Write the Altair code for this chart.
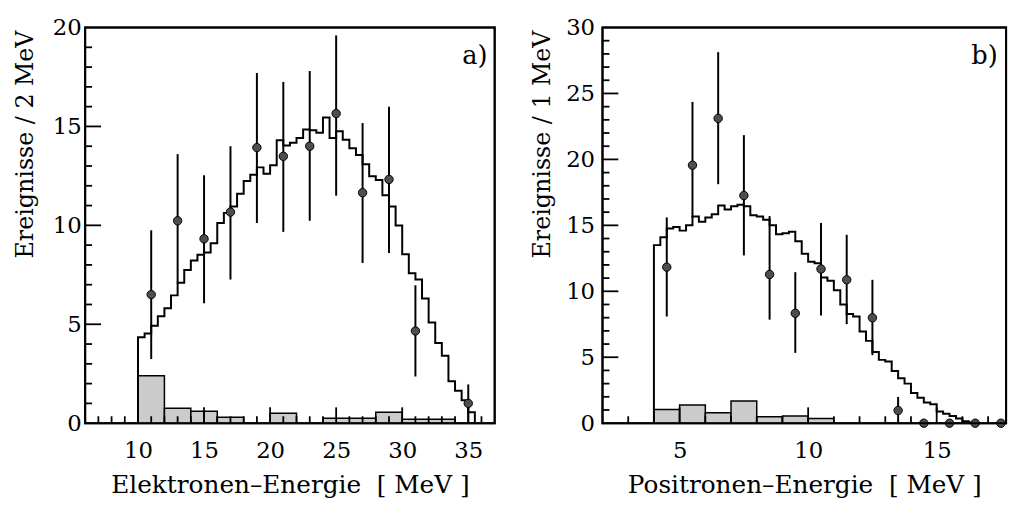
import altair as alt
import pandas as pd

FONT = "DejaVu Serif"

# ---------------- panel a) : electrons ----------------
a_mc_start = 10.0
a_mc_width = 0.5
a_mc_values = [4.34, 4.53, 4.93, 5.41, 5.81, 6.46, 7.10, 7.74, 8.22, 8.51,
               8.63, 9.10, 10.12, 10.63, 10.95, 11.60, 12.24, 12.56, 12.93, 12.61,
               13.04, 14.30, 14.04, 14.17, 14.41, 14.84, 14.81, 14.68, 15.45, 14.41,
               14.76, 14.33, 13.90, 13.56, 13.09, 12.48, 12.29, 11.52, 10.95, 9.99,
               8.54, 7.58, 7.26, 6.30, 5.09, 4.05, 3.41, 2.12, 1.64, 1.16,
               0.55]

a_bg_x0 = [10, 12, 14, 15, 16, 20, 24, 28, 30]
a_bg_x1 = [12, 14, 15, 16, 18, 22, 28, 30, 34]
a_bg_val = [2.4, 0.75, 0.6, 0.6, 0.3, 0.5, 0.25, 0.55, 0.2]

a_pt_x = [11, 13, 15, 17, 19, 21, 23, 25, 27, 29, 31, 35]
a_pt_y = [6.5, 10.23, 9.32, 10.67, 13.93, 13.49, 14.0, 15.65, 11.65, 12.32, 4.66, 1.0]
a_pt_lo = [3.24, 7.1, 6.06, 7.26, 10.12, 9.67, 10.23, 11.5, 8.1, 8.6, 2.36, 0.0]
a_pt_hi = [9.75, 13.6, 12.53, 14.0, 17.7, 17.25, 17.8, 19.6, 15.17, 16.0, 6.97, 1.96]

a_xdomain = [6, 37]
a_ydomain = [0, 20]
a_xmajor = [10, 15, 20, 25, 30, 35]
a_xminor = [7, 8, 9, 11, 12, 13, 14, 16, 17, 18, 19, 21, 22, 23, 24, 26, 27, 28, 29,
            31, 32, 33, 34, 36]
a_ymajor = [0, 5, 10, 15, 20]
a_yminor = [1, 2, 3, 4, 6, 7, 8, 9, 11, 12, 13, 14, 16, 17, 18, 19]
a_xtitle = "Elektronen–Energie\u00a0\u00a0[ MeV ]"
a_ytitle = "Ereignisse / 2 MeV"
a_tag = "a)"
a_tag_x, a_tag_y = 35.5, 18.55

# ---------------- panel b) : positrons ----------------
b_mc_start = 4.0
b_mc_width = 0.25
b_mc_values = [13.5, 14.1, 14.76, 14.88, 14.6, 15.0, 15.67, 15.28, 15.6, 15.84,
               16.5, 16.2, 16.44, 16.56, 16.44, 15.77, 15.67, 15.43, 15.0, 14.33,
               14.4, 14.52, 13.8, 12.84, 12.24, 12.12, 11.04, 10.8, 10.08, 9.0,
               8.28, 8.09, 6.96, 6.24, 5.4, 4.8, 4.68, 3.96, 3.41, 3.0,
               2.28, 1.92, 1.56, 1.44, 0.89, 0.72, 0.55, 0.36, 0.15, 0.05]

b_bg_x0 = [4, 5, 6, 7, 8, 9, 10]
b_bg_x1 = [5, 6, 7, 8, 9, 10, 11]
b_bg_val = [1.03, 1.37, 0.79, 1.68, 0.48, 0.55, 0.35]

b_pt_x = [4.5, 5.5, 6.5, 7.5, 8.5, 9.5, 10.5, 11.5, 12.5, 13.5, 14.5, 15.5, 16.5, 17.5]
b_pt_y = [11.83, 19.56, 23.11, 17.26, 11.28, 8.33, 11.69, 10.87, 7.99, 0.96, 0, 0, 0, 0]
b_pt_lo = [8.09, 15.6, 18.12, 12.72, 7.85, 5.33, 8.16, 7.51, 5.16, 0, 0, 0, 0, 0]
b_pt_hi = [15.6, 24.36, 28.13, 21.84, 15.7, 11.45, 15.17, 14.28, 10.87, 1.99, 0, 0, 0, 0]

b_xdomain = [2, 17.7]
b_ydomain = [0, 30]
b_xmajor = [5, 10, 15]
b_xminor = [3, 4, 6, 7, 8, 9, 11, 12, 13, 14, 16, 17]
b_ymajor = [0, 5, 10, 15, 20, 25, 30]
b_yminor = [1, 2, 3, 4, 6, 7, 8, 9, 11, 12, 13, 14, 16, 17, 18, 19,
            21, 22, 23, 24, 26, 27, 28, 29]
b_xtitle = "Positronen–Energie\u00a0\u00a0[ MeV ]"
b_ytitle = "Ereignisse / 1 MeV"
b_tag = "b)"
b_tag_x, b_tag_y = 16.86, 27.8

W_A, W_B, H = 414, 408, 400
MAJOR_LEN, MINOR_LEN = 16, 7


def panel(mc_start, mc_width, mc_values, bg_x0, bg_x1, bg_val,
          pt_x, pt_y, pt_lo, pt_hi, xdomain, ydomain, xmajor, xminor,
          ymajor, yminor, xtitle, ytitle, tag, tag_x, tag_y, width, ylabpad):
    sx = alt.Scale(domain=xdomain, nice=False, zero=False)
    sy = alt.Scale(domain=ydomain, nice=False, zero=False)
    ax = alt.Axis(values=xmajor, title=xtitle, grid=False, ticks=False,
                  domain=False, format="d", labelFont=FONT, labelFontSize=23,
                  labelColor="black", labelPadding=17, labelFlush=False,
                  titleFont=FONT, titleFontSize=25, titleFontWeight="normal",
                  titleColor="black", titlePadding=10)
    ay = alt.Axis(values=ymajor, title=None, grid=False, ticks=False,
                  domain=False, format="d", labelFont=FONT, labelFontSize=23,
                  labelColor="black", labelPadding=ylabpad, labelFlush=False)

    def X(f):
        return alt.X(f, type="quantitative", scale=sx, axis=ax)

    def Y(f):
        return alt.Y(f, type="quantitative", scale=sy, axis=ay)

    n = len(mc_values)
    xs = [mc_start] + [mc_start + mc_width * i for i in range(n)] + [mc_start + mc_width * n]
    ys = [0] + list(mc_values) + [0]
    mc_df = pd.DataFrame({"x": xs, "y": ys, "o": list(range(len(xs)))})
    bg_df = pd.DataFrame({"x": bg_x0, "x2": bg_x1, "y": bg_val, "base": [0] * len(bg_val)})
    pt_df = pd.DataFrame({"x": pt_x, "y": pt_y, "lo": pt_lo, "hi": pt_hi})

    bg = alt.Chart(bg_df).mark_rect(fill="#cccccc", stroke="black", strokeWidth=1.5).encode(
        x=X("x"), x2="x2", y=Y("y"), y2="base")
    mc = alt.Chart(mc_df).mark_line(interpolate="step-after", color="black",
                                    strokeWidth=2).encode(x=X("x"), y=Y("y"), order="o:Q")
    err = alt.Chart(pt_df).mark_rule(color="black", strokeWidth=2).encode(
        x=X("x"), y=Y("lo"), y2="hi")
    pts = alt.Chart(pt_df).mark_circle(size=72, color="#4e4e4e", stroke="black",
                                       strokeWidth=1, opacity=1).encode(x=X("x"), y=Y("y"))

    y0, y1 = ydomain
    ymaj = [v for v in ymajor if v not in (y0, y1)]
    ytick_maj = alt.Chart(pd.DataFrame({"t": ymaj})).mark_rule(color="black", strokeWidth=1.8).encode(
        y=Y("t"), x=alt.value(0), x2=alt.value(MAJOR_LEN))
    ytick_min = alt.Chart(pd.DataFrame({"t": yminor})).mark_rule(color="black", strokeWidth=1.8).encode(
        y=Y("t"), x=alt.value(0), x2=alt.value(MINOR_LEN))
    xtick_maj = alt.Chart(pd.DataFrame({"t": xmajor})).mark_rule(color="black", strokeWidth=1.8).encode(
        x=X("t"), y=alt.value(H), y2=alt.value(H - MAJOR_LEN))
    xtick_min = alt.Chart(pd.DataFrame({"t": xminor})).mark_rule(color="black", strokeWidth=1.8).encode(
        x=X("t"), y=alt.value(H), y2=alt.value(H - MINOR_LEN))
    frame = alt.Chart(pd.DataFrame({"k": [0]})).mark_rect(
        fill="white", fillOpacity=0, stroke="black", strokeWidth=2).encode(
        x=alt.value(0), x2=alt.value(width), y=alt.value(0), y2=alt.value(H))
    label = alt.Chart(pd.DataFrame({"x": [tag_x], "y": [tag_y], "t": [tag]})).mark_text(
        font=FONT, fontSize=26, color="black", align="center", baseline="middle").encode(
        x=X("x"), y=Y("y"), text="t:N")
    ytitle_mark = alt.Chart(pd.DataFrame({"t": [ytitle]})).mark_text(
        font=FONT, fontSize=24, color="black", angle=270, align="right",
        baseline="alphabetic").encode(x=alt.value(-53), y=alt.value(3), text="t:N")

    return alt.layer(bg, mc, err, pts, ytick_maj, ytick_min, xtick_maj, xtick_min,
                     frame, label, ytitle_mark).properties(width=width, height=H)


pa = panel(a_mc_start, a_mc_width, a_mc_values, a_bg_x0, a_bg_x1, a_bg_val,
           a_pt_x, a_pt_y, a_pt_lo, a_pt_hi, a_xdomain, a_ydomain, a_xmajor, a_xminor,
           a_ymajor, a_yminor, a_xtitle, a_ytitle, a_tag, a_tag_x, a_tag_y, W_A, 4)
pb = panel(b_mc_start, b_mc_width, b_mc_values, b_bg_x0, b_bg_x1, b_bg_val,
           b_pt_x, b_pt_y, b_pt_lo, b_pt_hi, b_xdomain, b_ydomain, b_xmajor, b_xminor,
           b_ymajor, b_yminor, b_xtitle, b_ytitle, b_tag, b_tag_x, b_tag_y, W_B, 8)

chart = alt.hconcat(pa, pb, spacing=34).configure_view(stroke="black", strokeWidth=2)

chart.save("out.html", embed_options={"renderer": "svg", "actions": False})
